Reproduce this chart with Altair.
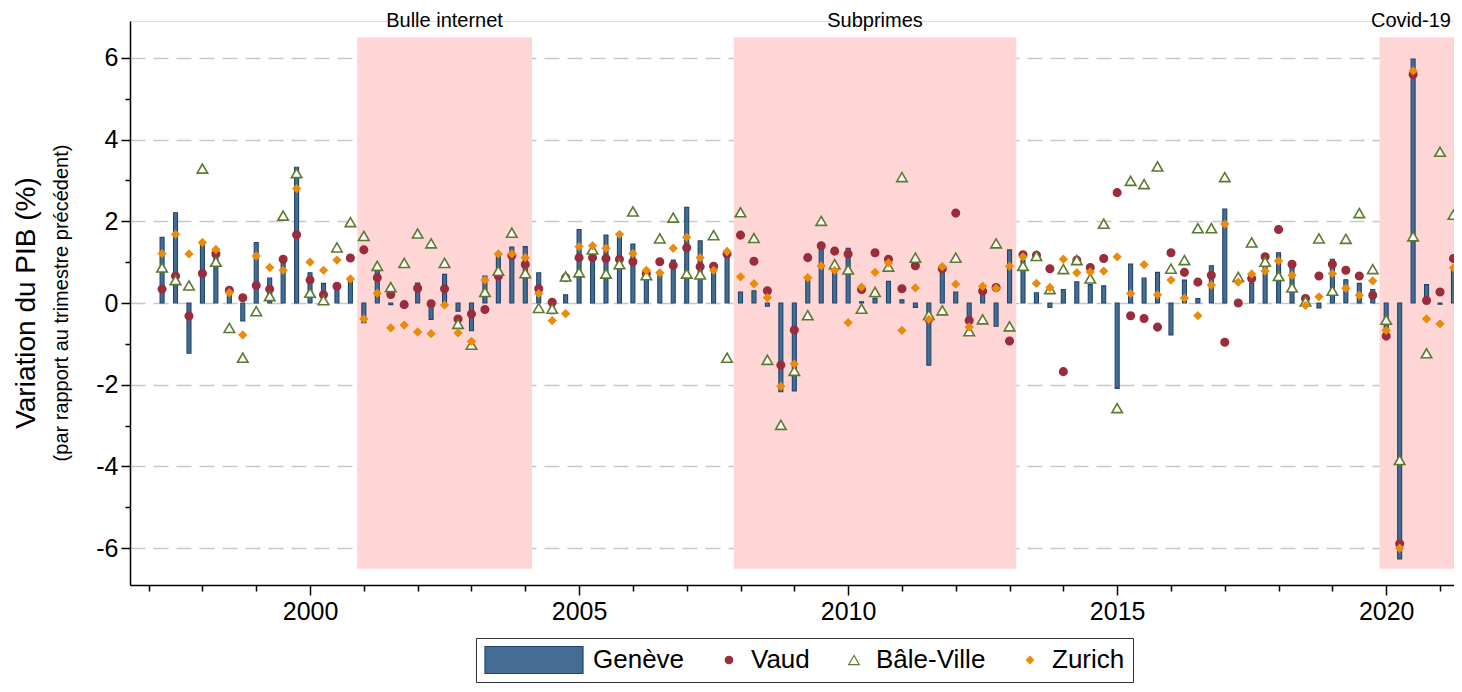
import altair as alt
import pandas as pd

# ---------------- data (quarterly, 1997Q2 .. 2021Q2) ----------------
first_year, first_q, n_q = 1997, 2, 97
quarters = []
y, q = first_year, first_q
for _ in range(n_q):
    quarters.append((y, q))
    q += 1
    if q == 5:
        q, y = 1, y + 1
t_values = [yy + (qq - 1) / 4 for yy, qq in quarters]

geneve = [1.61, 2.21, -1.23, 1.48, 1.25, 0.25, -0.44, 1.48, 0.61, 1.07,
          3.32, 0.74, 0.48, 0.39, 0.57, -0.48, 0.82, -0.04, -0.02, 0.49,
          -0.40, 0.70, -0.20, -0.68, 0.66, 1.20, 1.37, 1.38, 0.74, -0.26,
          0.20, 1.80, 1.35, 1.66, 1.68, 1.44, 0.76, 0.70, 1.05, 2.34,
          1.52, 0.80, 1.25, 0.27, 0.30, -0.08, -2.17, -2.15, 0.62, 1.34,
          0.76, 1.34, 0.03, 0.12, 0.53, 0.08, -0.11, -1.52, 0.84, 0.27,
          -0.34, 0.27, -0.57, 1.30, 1.05, 0.25, -0.11, 0.33, 0.52, 0.45,
          0.42, -2.09, 0.95, 0.61, 0.75, -0.78, 0.56, 0.11, 0.91, 2.30,
          0.00, 0.49, 1.13, 1.23, 0.89, 0.02, -0.12, 1.07, 0.57, 0.48,
          0.33, -0.75, -6.26, 5.97, 0.45, -0.03, 0.86]
vaud = [0.34, 0.66, -0.32, 0.72, 1.20, 0.31, 0.13, 0.43, 0.34, 1.07,
        1.67, 0.56, 0.20, 0.41, 1.10, 1.30, 0.62, 0.21, -0.04, 0.36,
        -0.02, 0.35, -0.39, -0.27, -0.16, 0.66, 1.16, 0.94, 0.35, 0.02,
        0.62, 1.11, 1.11, 1.09, 1.07, 1.01, 0.72, 1.01, 0.92, 1.35,
        0.89, 0.90, 1.20, 1.66, 1.02, 0.30, -1.52, -0.66, 1.11, 1.40,
        1.27, 1.20, 0.33, 1.23, 1.07, 0.35, 0.91, -0.39, 0.84, 2.20,
        -0.43, 0.29, 0.38, -0.93, 1.18, 1.17, 0.84, -1.68, 1.05, 0.87,
        1.09, 2.70, -0.31, -0.38, -0.59, 1.23, 0.75, 0.51, 0.68, -0.96,
        0.00, 0.60, 1.13, 1.80, 0.95, 0.11, 0.66, 0.95, 0.80, 0.66,
        0.19, -0.81, -5.89, 5.59, 0.06, 0.27, 1.09]
bale = [0.87, 0.56, 0.43, 3.29, 1.01, -0.61, -1.34, -0.20, 0.17, 2.14,
        3.18, 0.25, 0.07, 1.36, 1.98, 1.64, 0.91, 0.39, 0.98, 1.70,
        1.46, 0.98, -0.51, -1.02, 0.27, 0.79, 1.72, 0.73, -0.12, -0.14,
        0.65, 0.75, 1.31, 0.72, 0.95, 2.24, 0.68, 1.58, 2.09, 0.72,
        0.70, 1.66, -1.34, 2.22, 1.59, -1.39, -2.98, -1.66, -0.30, 2.01,
        0.95, 0.82, -0.14, 0.27, 0.89, 3.08, 1.11, -0.29, -0.18, 1.11,
        -0.69, -0.40, 1.46, -0.57, 0.91, 1.15, 0.34, 0.83, 1.05, 0.60,
        1.94, -2.57, 2.99, 2.91, 3.34, 0.84, 1.05, 1.83, 1.83, 3.08,
        0.64, 1.48, 1.01, 0.66, 0.38, 0.04, 1.58, 0.30, 1.57, 2.20,
        0.83, -0.41, -3.84, 1.63, -1.23, 3.70, 2.16]
zurich = [1.21, 1.68, 1.20, 1.48, 1.31, 0.25, -0.78, 1.15, 0.87, 0.80,
          2.80, 1.00, 0.80, 1.05, 0.59, -0.39, 0.24, -0.61, -0.54, -0.71,
          -0.75, -0.05, -0.73, -0.94, 0.56, 1.20, 1.20, 1.11, 0.23, -0.43,
          -0.26, 1.38, 1.40, 1.34, 1.68, 1.21, 0.80, 0.74, 1.34, 1.61,
          1.11, 0.80, 1.26, 0.64, 0.47, 0.13, -2.04, -1.49, 0.62, 0.91,
          0.80, -0.48, 0.39, 0.75, 0.98, -0.67, 0.37, -0.40, 0.89, 0.46,
          -0.59, 0.41, 0.36, 0.90, 1.13, 0.48, 0.38, 1.07, 0.74, 0.76,
          0.78, 1.13, 0.23, 0.94, 0.20, 0.56, 0.12, -0.31, 0.44, 1.93,
          0.51, 0.71, 0.78, 1.03, 0.68, -0.06, 0.15, 0.72, 0.36, 0.19,
          0.54, -0.67, -6.00, 5.68, -0.39, -0.51, 0.86]

cantons = ["Genève", "Vaud", "Bâle-Ville", "Zurich"]
series = [geneve, vaud, bale, zurich]

period_names = ["Bulle internet", "Subprimes", "Covid-19"]
period_start = [2000.875, 2007.875, 2019.875]
period_end = [2004.125, 2013.125, 2021.375]

X_MIN, X_MAX = 1996.654, 2021.26

# ---------------- tables ----------------
long_rows = []
for name, vals in zip(cantons, series):
    for t, v in zip(t_values, vals):
        long_rows.append({"t": t, "Canton": name, "value": v})
df = pd.DataFrame(long_rows)
df_bars = df[df["Canton"] == "Genève"]
df_pts = df[df["Canton"] != "Genève"]

periods = pd.DataFrame({"name": period_names, "start": period_start, "end": period_end})
# label centred on its period, kept inside the visible plot range
periods["mid"] = ((periods["start"] + periods["end"]) / 2).clip(upper=X_MAX - 0.8)

# ---------------- scales / styles ----------------
FONT = "Liberation Sans"
x_scale = alt.Scale(domain=[X_MIN, X_MAX], nice=False, zero=False, padding=0)
y_scale = alt.Scale(domain=[-6.9, 6.9], nice=False, zero=False, padding=0)

fill_scale = alt.Scale(domain=cantons, range=["#456d93", "#9a2c3b", "white", "#ea8b0c"])
stroke_scale = alt.Scale(domain=cantons, range=["#1f4469", "#9a2c3b", "#5a7a2e", "#ea8b0c"])
shape_scale = alt.Scale(domain=cantons,
                        range=["M-1,-0.276H1V0.276H-1Z", "circle", "triangle-up", "diamond"])
size_scale = alt.Scale(type="ordinal", domain=cantons, range=[9604, 56, 110, 50])

legend = alt.Legend(
    title=None, orient="none", direction="horizontal",
    legendX=346, legendY=617, clipHeight=28,
    labelFont=FONT, labelFontSize=26, labelColor="black", labelOffset=9,
    columnPadding=31, padding=8, strokeColor="#333333", fillColor="white",
    cornerRadius=0, symbolOpacity=1, symbolStrokeWidth=1.2,
)

x_axis = alt.Axis(
    values=list(range(1997, 2022)),
    labelExpr="datum.value % 5 === 0 ? '' + datum.value : ''",
    tickSize={"condition": {"test": "datum.value % 5 === 0", "value": 10}, "value": 6},
    grid=False, domainColor="black", tickColor="black", domainWidth=1.5, tickWidth=1.5,
    labelFont=FONT, labelFontSize=25, labelColor="black", labelPadding=4,
    labelFlush=False, labelOverlap=False, title=None,
)
y_axis = alt.Axis(
    values=list(range(-6, 7)),
    labelExpr="datum.value % 2 === 0 ? '' + datum.value : ''",
    tickSize={"condition": {"test": "datum.value % 2 === 0", "value": 9}, "value": 5},
    grid=True, gridColor="#c8c8c8", gridWidth=1.5, gridDash=[15, 8],
    gridOpacity={"condition": {"test": "datum.value % 2 === 0", "value": 1}, "value": 0},
    domainColor="black", tickColor="black", domainWidth=1.5, tickWidth=1.5,
    labelFont=FONT, labelFontSize=25, labelColor="black", labelPadding=3,
    labelFlush=False, labelOverlap=False, title=None,
)

shade = alt.Chart(periods).mark_rect(color="#ffd6d6", clip=True).encode(
    x=alt.X("start:Q", scale=x_scale, axis=x_axis),
    x2="end:Q",
    y=alt.datum(-6.5, scale=y_scale, axis=y_axis),
    y2=alt.datum(6.5),
)

labels = alt.Chart(periods).mark_text(
    font=FONT, fontSize=20, color="black", baseline="alphabetic", dy=6
).encode(
    x=alt.X("mid:Q", scale=x_scale),
    y=alt.datum(6.9),
    text="name:N",
)

bars = alt.Chart(df_bars).mark_bar(width=4, strokeWidth=1.1, clip=True).encode(
    x=alt.X("t:Q", scale=x_scale),
    y=alt.Y("value:Q", scale=y_scale),
    fill=alt.Fill("Canton:N", scale=fill_scale, legend=legend),
    stroke=alt.Stroke("Canton:N", scale=stroke_scale, legend=legend),
)

points = alt.Chart(df_pts).mark_point(filled=True, opacity=1, strokeWidth=1.6, clip=True).encode(
    x=alt.X("t:Q", scale=x_scale),
    y=alt.Y("value:Q", scale=y_scale),
    fill=alt.Fill("Canton:N", scale=fill_scale, legend=legend),
    stroke=alt.Stroke("Canton:N", scale=stroke_scale, legend=legend),
    shape=alt.Shape("Canton:N", scale=shape_scale, legend=legend),
    size=alt.Size("Canton:N", scale=size_scale, legend=legend),
)

chart = alt.layer(shade, labels, bars, points).properties(
    width=1324,
    height=564,
    autosize=alt.AutoSizeParams(type="none"),
    padding={"left": 122, "top": 13, "right": 0, "bottom": 99},
    title=alt.TitleParams(
        text="Variation du PIB (%)",
        subtitle="(par rapport au trimestre précédent)",
        orient="left", anchor="middle", font=FONT, fontSize=28, fontWeight="normal",
        color="black", subtitleFont=FONT, subtitleFontSize=20, subtitleColor="black",
        subtitlePadding=11, offset=24,
    ),
).configure_view(stroke=None).configure(background="white")

chart.save("out.html", embed_options={"renderer": "svg", "actions": False})
